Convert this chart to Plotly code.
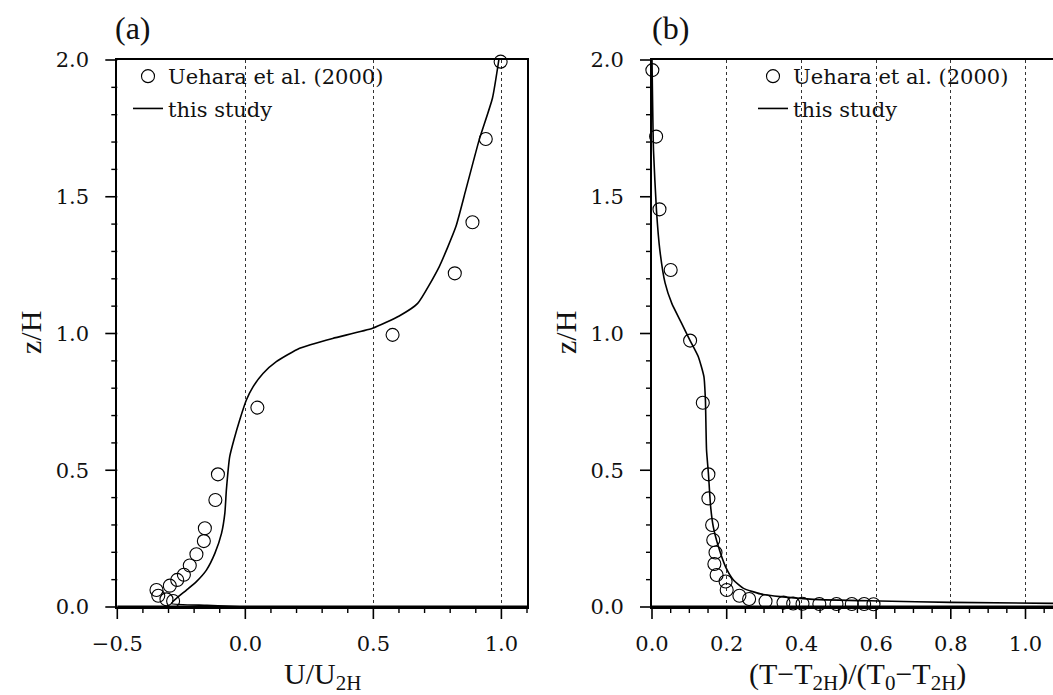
import plotly.graph_objects as go

# ---------------- data ----------------
# panel (a): mean wind profile
obs_u = [0.997, 0.939, 0.887, 0.818, 0.575, 0.047, -0.107, -0.117, -0.158, -0.162,
         -0.191, -0.217, -0.240, -0.266, -0.295, -0.347, -0.340, -0.308, -0.282]
obs_u_z = [1.994, 1.711, 1.407, 1.220, 0.995, 0.729, 0.485, 0.391, 0.288, 0.241,
           0.193, 0.152, 0.118, 0.099, 0.078, 0.062, 0.041, 0.028, 0.022]

sim_u = [0.0, -0.15, -0.288, -0.269, -0.230, -0.191, -0.152, -0.119, -0.093, -0.080,
         -0.074, -0.061, -0.045, -0.022, 0.004, 0.030, 0.069, 0.121, 0.212, 0.341,
         0.497, 0.601, 0.673, 0.757, 0.822, 0.861, 0.913, 0.965, 0.99]
sim_u_z = [0.0, 0.006, 0.013, 0.032, 0.062, 0.093, 0.135, 0.196, 0.269, 0.343,
           0.428, 0.55, 0.61, 0.684, 0.757, 0.805, 0.854, 0.897, 0.946, 0.982,
           1.019, 1.064, 1.110, 1.244, 1.39, 1.525, 1.707, 1.86, 2.0]

# panel (b): normalised temperature profile
obs_t = [0.001, 0.011, 0.020, 0.050, 0.102, 0.136, 0.151, 0.151, 0.161, 0.164,
         0.170, 0.167, 0.173, 0.197, 0.200, 0.234, 0.260, 0.304, 0.352, 0.378,
         0.403, 0.448, 0.494, 0.535, 0.568, 0.593]
obs_t_z = [1.963, 1.72, 1.454, 1.232, 0.974, 0.747, 0.485, 0.397, 0.300, 0.245,
           0.199, 0.157, 0.117, 0.093, 0.062, 0.041, 0.029, 0.021, 0.016, 0.013,
           0.012, 0.011, 0.011, 0.011, 0.011, 0.010]

sim_t = [0.0, 0.004, 0.012, 0.021, 0.035, 0.053, 0.079, 0.102, 0.124, 0.139,
         0.143, 0.146, 0.151, 0.157, 0.164, 0.178, 0.197, 0.218, 0.245, 0.29,
         0.343, 0.432, 0.61, 0.8, 1.1]
sim_t_z = [2.0, 1.67, 1.45, 1.305, 1.185, 1.11, 1.038, 0.974, 0.915, 0.842,
           0.757, 0.574, 0.489, 0.367, 0.294, 0.22, 0.147, 0.099, 0.068, 0.048,
           0.038, 0.028, 0.022, 0.017, 0.013]

# tick values (major / minor)
xa_ticks = [-0.5, 0.0, 0.5, 1.0]
xa_minor = [-0.4, -0.3, -0.2, -0.1, 0.1, 0.2, 0.3, 0.4, 0.6, 0.7, 0.8, 0.9, 1.1]
xb_ticks = [0.0, 0.2, 0.4, 0.6, 0.8, 1.0]
xb_minor = [0.05, 0.1, 0.15, 0.25, 0.3, 0.35, 0.45, 0.5, 0.55, 0.65, 0.7, 0.75,
            0.85, 0.9, 0.95, 1.05]
z_ticks = [0.0, 0.5, 1.0, 1.5, 2.0]
z_minor = [0.1, 0.2, 0.3, 0.4, 0.6, 0.7, 0.8, 0.9, 1.1, 1.2, 1.3, 1.4,
           1.6, 1.7, 1.8, 1.9]

obs_name = "Uehara et al. (2000)"
sim_name = "this study"

# ---------------- layout helpers ----------------
W, H = 1053, 695
def px(x):
    return x / W
def py(y):
    return 1 - y / H

A_L, A_R, B_L, B_R = 117.3, 527.0, 652.0, 1053.0
P_T, P_B = 60.0, 607.0
XA_RANGE = [-0.5, 1.1]
XB_RANGE = [0.0, (B_R - B_L) / 373.5]
Z_RANGE = [0.0, 2.0]

TICK_FONT = dict(family="DejaVu Serif", size=21, color="#111")
TITLE_FONT = dict(family="Liberation Serif", size=30, color="#111")
LEG_FONT = dict(family="DejaVu Serif", size=21, color="#111")

fig = go.Figure()

mk = dict(symbol="circle-open", size=13, color="black", line=dict(width=1.1, color="black"))
ln = dict(color="black", width=1.6, shape="spline", smoothing=0.5)

fig.add_trace(go.Scatter(x=obs_u, y=obs_u_z, mode="markers", marker=mk, name=obs_name,
                         xaxis="x", yaxis="y", cliponaxis=False, legend="legend",
                         legendgroup="a1"))
fig.add_trace(go.Scatter(x=sim_u, y=sim_u_z, mode="lines", line=ln, name=sim_name,
                         xaxis="x", yaxis="y", legend="legend", legendgroup="a2"))
fig.add_trace(go.Scatter(x=obs_t, y=obs_t_z, mode="markers", marker=mk, name=obs_name,
                         xaxis="x2", yaxis="y2", cliponaxis=False, legend="legend2",
                         legendgroup="b1"))
fig.add_trace(go.Scatter(x=sim_t, y=sim_t_z, mode="lines", line=ln, name=sim_name,
                         xaxis="x2", yaxis="y2", legend="legend2", legendgroup="b2"))

ydom = [py(P_B), py(P_T)]
# plotly's own tick marks are transparent: their length only sets the label offset;
# the visible tick marks are drawn below as paper-referenced lines
basex = dict(ticks="outside", ticklen=17, tickcolor="rgba(0,0,0,0)",
             showline=True, linecolor="black", linewidth=2,
             zeroline=False, tickfont=TICK_FONT, tickformat=".1f", automargin=False)
basey = dict(basex, ticklen=22)
gridx = dict(showgrid=True, gridcolor="#333", gridwidth=1, griddash="dot")

fig.update_layout(
    width=W, height=H,
    margin=dict(l=0, r=0, t=0, b=0, autoexpand=False),
    paper_bgcolor="white", plot_bgcolor="white",
    showlegend=True,
    xaxis=dict(basex, **gridx, mirror=True, domain=[px(A_L), px(A_R)], range=XA_RANGE,
               tickmode="array", tickvals=xa_ticks, anchor="y"),
    yaxis=dict(basey, showgrid=False, mirror=True, range=Z_RANGE, tickmode="array",
               tickvals=z_ticks, domain=ydom, anchor="x"),
    xaxis2=dict(basex, **gridx, mirror=True, domain=[px(B_L), 1.0], range=XB_RANGE,
                tickmode="array", tickvals=xb_ticks, anchor="y2"),
    yaxis2=dict(basey, showgrid=False, mirror=False, range=Z_RANGE, tickmode="array",
                tickvals=z_ticks, domain=ydom, anchor="x2"),
    legend=dict(x=px(128), y=py(56), xanchor="left", yanchor="top", font=LEG_FONT,
                bgcolor="rgba(0,0,0,0)", borderwidth=0, tracegroupgap=2,
                traceorder="grouped", itemwidth=30),
    legend2=dict(x=px(753), y=py(56), xanchor="left", yanchor="top", font=LEG_FONT,
                 bgcolor="rgba(0,0,0,0)", borderwidth=0, tracegroupgap=2,
                 traceorder="grouped", itemwidth=30),
)

def xpix(v, rng, left, right):
    return left + (v - rng[0]) / (rng[1] - rng[0]) * (right - left)

def ypix(v):
    return P_B - (v - Z_RANGE[0]) / (Z_RANGE[1] - Z_RANGE[0]) * (P_B - P_T)

def tick_x(vals, rng, left, right, length, width):
    for v in vals:
        xp = xpix(v, rng, left, right)
        if xp > W + 0.5:
            continue
        fig.add_shape(type="line", xref="paper", yref="paper",
                      x0=px(xp), x1=px(xp), y0=py(P_B), y1=py(P_B + length),
                      line=dict(color="black", width=width), layer="above")

def tick_y(vals, left, length, width):
    for v in vals:
        yp = ypix(v)
        fig.add_shape(type="line", xref="paper", yref="paper",
                      x0=px(left), x1=px(left - length), y0=py(yp), y1=py(yp),
                      line=dict(color="black", width=width), layer="above")

tick_x(xa_ticks, XA_RANGE, A_L, A_R, 12, 1.6)
tick_x(xa_minor, XA_RANGE, A_L, A_R, 6, 1.4)
tick_x(xb_ticks, XB_RANGE, B_L, B_R, 12, 1.6)
tick_x(xb_minor, XB_RANGE, B_L, B_R, 6, 1.4)
for left in (A_L, B_L):
    tick_y(z_ticks, left, 12, 1.6)
    tick_y(z_minor, left, 6, 1.4)

# thicker bottom frame line for both panels
for l, r in ((A_L, A_R), (B_L, B_R)):
    fig.add_shape(type="line", xref="paper", yref="paper", x0=px(l), x1=px(r),
                  y0=py(P_B), y1=py(P_B), line=dict(color="black", width=3.2), layer="above")

anns = [
    dict(text="(a)", x=px(113), y=py(28), xanchor="left", yanchor="middle",
         font=dict(family="Liberation Serif", size=32, color="#111")),
    dict(text="(b)", x=px(650), y=py(28), xanchor="left", yanchor="middle",
         font=dict(family="Liberation Serif", size=32, color="#111")),
    dict(text="z/H", x=px(30), y=py(333), textangle=-90, xanchor="center", yanchor="middle",
         font=TITLE_FONT),
    dict(text="z/H", x=px(565), y=py(333), textangle=-90, xanchor="center", yanchor="middle",
         font=TITLE_FONT),
    dict(text="U/U<sub>2H</sub>", x=px(322), y=py(676), xanchor="center", yanchor="middle",
         font=TITLE_FONT),
    dict(text="(T\u2212T<sub>2H</sub>)/(T<sub>0</sub>\u2212T<sub>2H</sub>)", x=px(857), y=py(676),
         xanchor="center", yanchor="middle", font=TITLE_FONT),
]
for a in anns:
    fig.add_annotation(xref="paper", yref="paper", showarrow=False, **a)

fig.write_html("out.html")
